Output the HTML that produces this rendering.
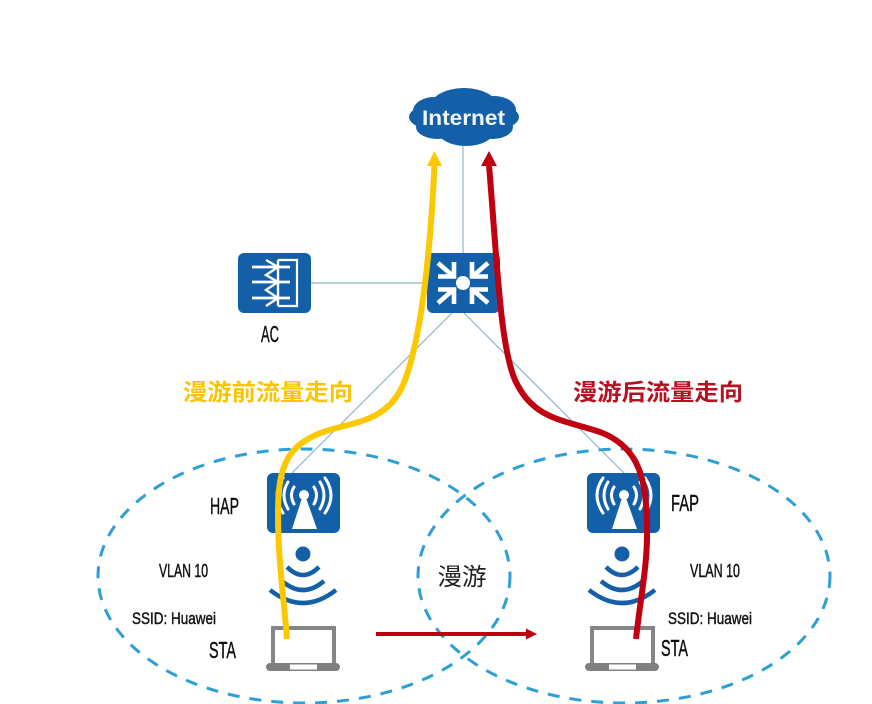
<!DOCTYPE html>
<html>
<head>
<meta charset="utf-8">
<style>
html,body{margin:0;padding:0;background:#fff;width:872px;height:704px;overflow:hidden}
svg{display:block;filter:blur(0.35px)}
text{font-family:"Liberation Sans","Noto Sans CJK SC",sans-serif}
.n{font-family:"Liberation Sans Narrow","Liberation Sans",sans-serif;fill:#111;stroke:#111;stroke-width:.45}
</style>
</head>
<body>
<svg width="872" height="704" viewBox="0 0 872 704" xmlns="http://www.w3.org/2000/svg">
<defs>
<g id="ap">
  <rect x="0" y="0" width="73" height="60" rx="6" fill="#1460a8"/>
  <path d="M35 25 L39 25 L50 56 L25 56 Z" fill="#fff"/>
  <circle cx="37" cy="22" r="5" fill="#fff"/>
  <g fill="none" stroke="#fff" stroke-width="3" stroke-linecap="round">
    <path d="M27 14 Q22 22 27 31"/><path d="M21 9 Q13 22 21 36"/><path d="M16 5 Q4 22 16 40"/>
    <path d="M47 14 Q52 22 47 31"/><path d="M53 9 Q61 22 53 36"/><path d="M58 5 Q70 22 58 40"/>
  </g>
</g>
<g id="wifi">
  <circle cx="0" cy="0" r="7.500" fill="#1460a8"/>
  <g fill="none" stroke="#1460a8" stroke-width="4.500">
    <path d="M-16 13 Q0 29 16 13"/><path d="M-21 27 Q0 45 21 27"/><path d="M-33 36 Q0 62 33 36"/>
  </g>
</g>
<g id="lap">
  <rect x="7" y="2" width="61" height="37" fill="#fff" stroke="#868686" stroke-width="4"/>
  <rect x="0" y="37" width="74" height="8" rx="4" fill="#808080"/>
  <rect x="24" y="38.500" width="27" height="5" fill="#fff"/>
</g>
</defs>

<!-- connectors -->
<g fill="none" stroke="#8fb4c8" stroke-width="1.200">
  <line x1="463" y1="146" x2="463" y2="254"/>
  <line x1="311" y1="283" x2="428" y2="283"/>
  <line x1="452" y1="313" x2="292" y2="473"/>
  <line x1="464" y1="313" x2="624" y2="473"/>
</g>

<!-- cloud -->
<g fill="#1460a8">
  <ellipse cx="464" cy="117" rx="55" ry="18"/>
  <ellipse cx="464" cy="107" rx="34" ry="19"/>
  <ellipse cx="434" cy="111" rx="21" ry="14"/>
  <ellipse cx="494" cy="110" rx="22" ry="14"/>
  <ellipse cx="438" cy="127" rx="22" ry="12"/>
  <ellipse cx="466" cy="131" rx="28" ry="15"/>
  <ellipse cx="492" cy="127" rx="21" ry="12"/>
</g>
<text x="463.500" y="125" font-size="21" font-weight="700" fill="#f2f5f8" text-anchor="middle" textLength="83" lengthAdjust="spacingAndGlyphs">Internet</text>

<!-- AC -->
<rect x="238" y="253" width="73" height="60" rx="6" fill="#1460a8"/>
<g fill="none" stroke="#fff">
  <path d="M278 260 H297 V306 H278" stroke-width="2.200"/>
  <path d="M252 267 H290 M252 282 H290 M252 298 H290" stroke-width="2.800"/>
  <path d="M266 260 L278 267 L266 275 L278 282 L266 290 L278 298 L266 306" stroke-width="2.400"/>
  <path d="M278 260 V306" stroke-width="2.400"/>
</g>
<text class="n" x="270" y="342" font-size="23" text-anchor="middle" textLength="18" lengthAdjust="spacingAndGlyphs">AC</text>

<!-- switch -->
<rect x="427" y="253" width="73" height="60" rx="6" fill="#1460a8"/>
<circle cx="463" cy="283" r="7" fill="#fff"/>
<g fill="none" stroke="#fff" stroke-width="4.600">
  <path d="M438 263 L453 276 M454 262 V276.500 H438"/>
  <path d="M488 263 L473 276 M472 262 V276.500 H488"/>
  <path d="M438 303 L453 290 M454 304 V289.500 H438"/>
  <path d="M488 303 L473 290 M472 304 V289.500 H488"/>
</g>

<!-- APs -->
<use href="#ap" x="267" y="473"/>
<use href="#ap" x="587" y="473"/>
<use href="#wifi" x="303" y="554"/>
<use href="#wifi" x="622" y="554"/>
<use href="#lap" x="266" y="626"/>
<use href="#lap" x="585" y="626"/>

<!-- ellipses -->
<g fill="none" stroke="#2e9fd6" stroke-width="3" stroke-dasharray="12 10">
  <ellipse cx="304" cy="576" rx="206" ry="127"/>
  <ellipse cx="624" cy="576" rx="206" ry="127"/>
</g>

<!-- yellow flow -->
<path d="M287 639 C284 600 278 560 278 515 C278 470 285 448 318 434 C350 421 385 425 403 385 C420 345 430 260 434.500 165" fill="none" stroke="#fcc800" stroke-width="6"/>
<path d="M434.500 151 L442 166 L427 166 Z" fill="#fcc800"/>

<!-- red flow -->
<path d="M636 639 C640 600 648 565 647 525 C646 480 640 447 600 432 C565 420 533 420 515 380 C500 345 497 260 489 165" fill="none" stroke="#c00010" stroke-width="6"/>
<path d="M489 151 L497 166 L481 166 Z" fill="#c00010"/>

<!-- roaming arrow -->
<line x1="376" y1="634" x2="528" y2="634" stroke="#c00010" stroke-width="4"/>
<path d="M537 634 L526 628.500 L526 639.500 Z" fill="#c00010"/>

<!-- labels -->
<text x="268" y="400" font-size="23" font-weight="700" fill="#f9c400" text-anchor="middle" textLength="170" lengthAdjust="spacingAndGlyphs">漫游前流量走向</text>
<text x="658" y="400" font-size="23" font-weight="700" fill="#b81020" text-anchor="middle" textLength="170" lengthAdjust="spacingAndGlyphs">漫游后流量走向</text>
<text x="462" y="585" font-size="24" fill="#222" text-anchor="middle" textLength="49" lengthAdjust="spacingAndGlyphs">漫游</text>

<text class="n" x="210" y="514" font-size="23" textLength="29" lengthAdjust="spacingAndGlyphs">HAP</text>
<text class="n" x="671" y="511" font-size="23" textLength="28" lengthAdjust="spacingAndGlyphs">FAP</text>
<text class="n" x="159" y="577" font-size="18" textLength="49" lengthAdjust="spacingAndGlyphs">VLAN 10</text>
<text class="n" x="690" y="577" font-size="18" textLength="50" lengthAdjust="spacingAndGlyphs">VLAN 10</text>
<text class="n" x="132" y="624" font-size="17" textLength="84" lengthAdjust="spacingAndGlyphs">SSID: Huawei</text>
<text class="n" x="668" y="624" font-size="17" textLength="84" lengthAdjust="spacingAndGlyphs">SSID: Huawei</text>
<text class="n" x="209" y="658" font-size="23" textLength="27" lengthAdjust="spacingAndGlyphs">STA</text>
<text class="n" x="661" y="656" font-size="23" textLength="27" lengthAdjust="spacingAndGlyphs">STA</text>
</svg>
</body>
</html>
